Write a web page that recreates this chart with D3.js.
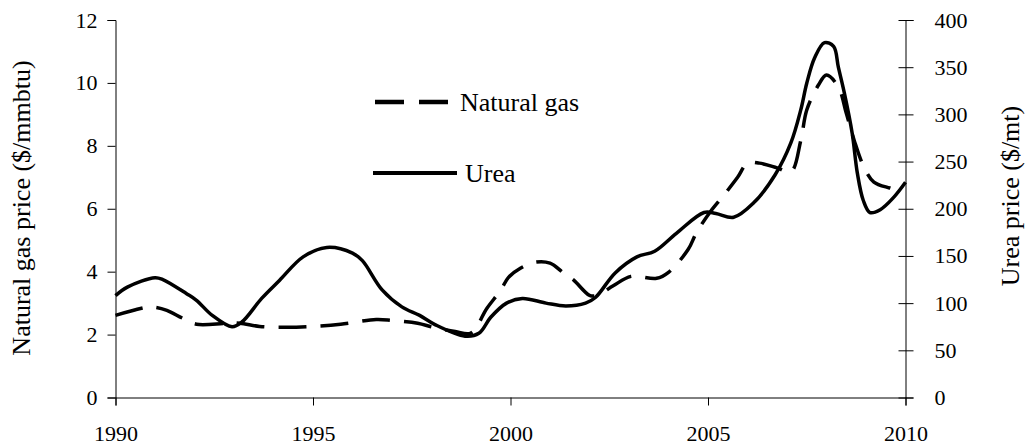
<!DOCTYPE html>
<html>
<head>
<meta charset="utf-8">
<script src="https://cdn.jsdelivr.net/npm/d3@7"></script>
<style>
  body { margin: 0; background: #fff; }
  text { font-family: "Liberation Serif", "Times New Roman", serif; fill: #000; }
</style>
</head>
<body>
<div id="chart"></div>
<script>
// gas price ($/mmbtu)
var gasYears = [1990.0, 1990.8, 1991.0, 1991.3, 1991.7, 1992.05, 1992.8, 1993.15, 1993.65, 1994.35,
  1995.0, 1995.7, 1996.6, 1997.0, 1997.65, 1998.05, 1998.6, 1999.0, 1999.4, 1999.75,
  1999.95, 2000.25, 2000.63, 2001.0, 2001.35, 2001.6, 2002.0, 2002.2, 2002.6, 2003.05,
  2003.7, 2004.0, 2004.5, 2004.7, 2005.05, 2005.4, 2005.75, 2006.0, 2006.3, 2006.75,
  2007.1, 2007.35, 2007.5, 2007.8, 2008.0, 2008.3, 2008.5, 2008.7, 2008.95, 2009.2,
  2009.6, 2009.75];
var gasValues = [2.61, 2.87, 2.87, 2.77, 2.52, 2.33, 2.36, 2.36, 2.26, 2.23,
  2.26, 2.33, 2.48, 2.45, 2.36, 2.23, 2.1, 2.05, 2.83, 3.41,
  3.82, 4.11, 4.30, 4.27, 3.95, 3.73, 3.25, 3.25, 3.55, 3.85,
  3.79, 3.98, 4.71, 5.22, 5.89, 6.43, 7.0, 7.45, 7.45, 7.3,
  7.17, 8.18, 9.14, 9.94, 10.25, 9.87, 9.04, 8.18, 7.32, 6.85,
  6.66, 6.6];

// urea price ($/mt)
var ureaYears = [1990.0, 1990.3, 1991.0, 1991.2, 1991.8, 1992.05, 1992.45, 1992.95, 1993.2, 1993.7,
  1994.15, 1994.75, 1995.35, 1996.0, 1996.25, 1996.75, 1997.25, 1997.7, 1998.1, 1998.85,
  1999.2, 1999.5, 1999.9, 2000.3, 2000.9, 2001.4, 2001.9, 2002.15, 2002.65, 2003.2,
  2003.65, 2004.2, 2004.9, 2005.2, 2005.65, 2006.15, 2006.7, 2007.1, 2007.35, 2007.5,
  2007.7, 2007.95, 2008.18, 2008.3, 2008.45, 2008.65, 2008.78, 2008.93, 2009.1, 2009.36,
  2009.7, 2010.0];
var ureaValues = [108, 117, 127, 125, 110, 103, 87, 75, 80, 105,
  124, 149, 159, 153, 145, 114, 96, 87, 77, 65,
  68, 85, 100, 105, 100, 97, 100, 106, 132, 149,
  155, 174, 196, 195, 191, 206, 236, 270, 305, 333,
  360, 376, 372, 350, 323, 280, 238, 209, 196, 199,
  212, 228];

var xTicks = [1990, 1995, 2000, 2005, 2010];
var gasTicks = [0, 2, 4, 6, 8, 10, 12];
var ureaTicks = [0, 50, 100, 150, 200, 250, 300, 350, 400];
var seriesNames = ["Natural gas", "Urea"];

function drawChart() {
  var W = 1027, H = 448;
  var plotLeft = 115.5, plotRight = 905.5, plotTop = 20, plotBottom = 397.5;

  var svg = d3.select("#chart").append("svg")
    .attr("width", W).attr("height", H);

  var x = d3.scaleLinear().domain([1990, 2010]).range([plotLeft, plotRight]);
  var yGas = d3.scaleLinear().domain([0, 12]).range([plotBottom, plotTop]);
  var yUrea = d3.scaleLinear().domain([0, 400]).range([plotBottom, plotTop]);

  // axes
  svg.append("g")
    .attr("transform", "translate(0," + plotBottom + ")")
    .call(d3.axisBottom(x).tickValues(xTicks).tickFormat(d3.format("d")).tickSize(8).tickPadding(20));

  svg.append("g")
    .attr("transform", "translate(" + plotLeft + ",0)")
    .call(d3.axisLeft(yGas).tickValues(gasTicks).tickSize(8).tickPadding(10));

  var rAxis = svg.append("g")
    .attr("transform", "translate(" + plotRight + ",0)")
    .call(d3.axisRight(yUrea).tickValues(ureaTicks).tickSize(8).tickPadding(21));
  // right ticks cross the axis
  rAxis.selectAll(".tick line").attr("x1", -7).attr("x2", 8);

  svg.selectAll(".domain").attr("stroke", "#000").attr("stroke-width", 1);
  svg.selectAll(".tick line").attr("stroke", "#000");
  svg.selectAll(".tick text").style("font-size", "22px")
    .style("font-family", "'Liberation Serif', serif");

  // axis titles
  svg.append("text")
    .attr("transform", "translate(30,208) rotate(-90)")
    .attr("text-anchor", "middle")
    .style("font-size", "26px")
    .text("Natural gas price ($/mmbtu)");

  svg.append("text")
    .attr("transform", "translate(1019,196) rotate(-90)")
    .attr("text-anchor", "middle")
    .style("font-size", "26px")
    .text("Urea price ($/mt)");

  // lines
  var gasData = gasYears.map(function(d, i) { return { x: d, y: gasValues[i] }; });
  var ureaData = ureaYears.map(function(d, i) { return { x: d, y: ureaValues[i] }; });

  var gasLine = d3.line()
    .x(function(d) { return x(d.x); })
    .y(function(d) { return yGas(d.y); })
    .curve(d3.curveCatmullRom.alpha(0.5));

  var ureaLine = d3.line()
    .x(function(d) { return x(d.x); })
    .y(function(d) { return yUrea(d.y); })
    .curve(d3.curveCatmullRom.alpha(0.5));

  svg.append("path")
    .datum(ureaData)
    .attr("fill", "none")
    .attr("stroke", "#000")
    .attr("stroke-width", 3.5)
    .attr("d", ureaLine);

  svg.append("path")
    .datum(gasData)
    .attr("fill", "none")
    .attr("stroke", "#000")
    .attr("stroke-width", 3.5)
    .attr("stroke-dasharray", "28,14")
    .attr("d", gasLine);

  // legend
  var legend = svg.append("g");
  legend.append("line")
    .attr("x1", 375).attr("x2", 448).attr("y1", 102).attr("y2", 102)
    .attr("stroke", "#000").attr("stroke-width", 4.5)
    .attr("stroke-dasharray", "29,15");
  legend.append("text")
    .attr("x", 460).attr("y", 111)
    .style("font-size", "26px")
    .text(seriesNames[0]);

  legend.append("line")
    .attr("x1", 373).attr("x2", 457).attr("y1", 173).attr("y2", 173)
    .attr("stroke", "#000").attr("stroke-width", 4);
  legend.append("text")
    .attr("x", 465).attr("y", 182)
    .style("font-size", "26px")
    .text(seriesNames[1]);
}

drawChart();
</script>
</body>
</html>
